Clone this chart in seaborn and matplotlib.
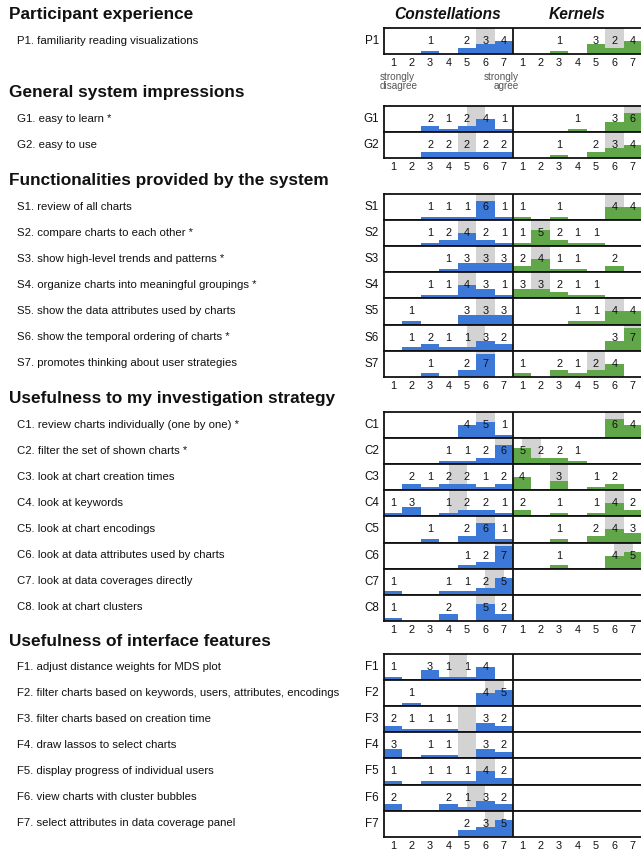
import numpy as np
import pandas as pd
import matplotlib
matplotlib.use('Agg')
import matplotlib.pyplot as plt
from matplotlib import font_manager
import seaborn as sns

# Likert scale points
scale = [1, 2, 3, 4, 5, 6, 7]
tools = ['Constellations', 'Kernels']

# Participant experience
p_codes = ['P1']
p_items = ['familiarity reading visualizations']
p_const = [[0, 0, 1, 0, 2, 3, 4]]
p_kern = [[0, 0, 1, 0, 3, 2, 4]]

# General system impressions
g_codes = ['G1', 'G2']
g_items = ['easy to learn *', 'easy to use']
g_const = [[0, 0, 2, 1, 2, 4, 1],
           [0, 0, 2, 2, 2, 2, 2]]
g_kern = [[0, 0, 0, 1, 0, 3, 6],
          [0, 0, 1, 0, 2, 3, 4]]

# Functionalities provided by the system
s_codes = ['S1', 'S2', 'S3', 'S4', 'S5', 'S6', 'S7']
s_items = ['review of all charts',
           'compare charts to each other *',
           'show high-level trends and patterns *',
           'organize charts into meaningful groupings *',
           'show the data attributes used by charts',
           'show the temporal ordering of charts *',
           'promotes thinking about user strategies']
s_const = [[0, 0, 1, 1, 1, 6, 1],
           [0, 0, 1, 2, 4, 2, 1],
           [0, 0, 0, 1, 3, 3, 3],
           [0, 0, 1, 1, 4, 3, 1],
           [0, 1, 0, 0, 3, 3, 3],
           [0, 1, 2, 1, 1, 3, 2],
           [0, 0, 1, 0, 2, 7, 0]]
s_kern = [[1, 0, 1, 0, 0, 4, 4],
          [1, 5, 2, 1, 1, 0, 0],
          [2, 4, 1, 1, 0, 2, 0],
          [3, 3, 2, 1, 1, 0, 0],
          [0, 0, 0, 1, 1, 4, 4],
          [0, 0, 0, 0, 0, 3, 7],
          [1, 0, 2, 1, 2, 4, 0]]

# Usefulness to my investigation strategy
c_codes = ['C1', 'C2', 'C3', 'C4', 'C5', 'C6', 'C7', 'C8']
c_items = ['review charts individually (one by one) *',
           'filter the set of shown charts *',
           'look at chart creation times',
           'look at keywords',
           'look at chart encodings',
           'look at data attributes used by charts',
           'look at data coverages directly',
           'look at chart clusters']
c_const = [[0, 0, 0, 0, 4, 5, 1],
           [0, 0, 0, 1, 1, 2, 6],
           [0, 2, 1, 2, 2, 1, 2],
           [1, 3, 0, 1, 2, 2, 1],
           [0, 0, 1, 0, 2, 6, 1],
           [0, 0, 0, 0, 1, 2, 7],
           [1, 0, 0, 1, 1, 2, 5],
           [1, 0, 0, 2, 0, 5, 2]]
c_kern = [[0, 0, 0, 0, 0, 6, 4],
          [5, 2, 2, 1, 0, 0, 0],
          [4, 0, 3, 0, 1, 2, 0],
          [2, 0, 1, 0, 1, 4, 2],
          [0, 0, 1, 0, 2, 4, 3],
          [0, 0, 1, 0, 0, 4, 5],
          [0, 0, 0, 0, 0, 0, 0],
          [0, 0, 0, 0, 0, 0, 0]]

# Usefulness of interface features (Constellations only)
f_codes = ['F1', 'F2', 'F3', 'F4', 'F5', 'F6', 'F7']
f_items = ['adjust distance weights for MDS plot',
           'filter charts based on keywords, users, attributes, encodings',
           'filter charts based on creation time',
           'draw lassos to select charts',
           'display progress of individual users',
           'view charts with cluster bubbles',
           'select attributes in data coverage panel']
f_const = [[1, 0, 3, 1, 1, 4, 0],
           [0, 1, 0, 0, 0, 4, 5],
           [2, 1, 1, 1, 0, 3, 2],
           [3, 0, 1, 1, 0, 3, 2],
           [1, 0, 1, 1, 1, 4, 2],
           [2, 0, 0, 2, 1, 3, 2],
           [0, 0, 0, 0, 2, 3, 5]]
f_kern = [[0] * 7 for _ in f_codes]

headers = ['Participant experience',
           'General system impressions',
           'Functionalities provided by the system',
           'Usefulness to my investigation strategy',
           'Usefulness of interface features']

palette = {'Constellations': '#3b78d8', 'Kernels': '#62a64a'}
median_color = '#d3d3d3'

W, H = 641, 856
sns.set_theme(style='white')
plt.rcParams['font.family'] = ['Liberation Sans', 'DejaVu Sans']

names = {f.name for f in font_manager.fontManager.ttflist}
if 'Liberation Sans Narrow' in names:
    item_font, item_size = 'Liberation Sans Narrow', 9.4
else:
    item_font, item_size = 'Liberation Sans', 8.2

fig = plt.figure(figsize=(W / 100, H / 100), dpi=100)


def fx(px):
    return px / W


def fy(py):
    return 1 - py / H


X0, X1 = 384, 642   # left edge of Constellations, right edge of Kernels
RH = 26.1           # row height in pixels


def draw_row(ax, const, kern):
    df = pd.DataFrame({'pos': scale + [s + 7 for s in scale],
                       'count': const + kern,
                       'tool': ['Constellations'] * 7 + ['Kernels'] * 7})
    sns.histplot(data=df, x='pos', weights='count', hue='tool', hue_order=tools,
                 palette=palette, discrete=True, shrink=1, alpha=1,
                 linewidth=0, legend=False, ax=ax, zorder=2)
    # median band
    for counts, off in [(const, 0), (kern, 7)]:
        if sum(counts) > 0:
            m = np.median(np.repeat(scale, counts))
            ax.axvspan(m + off - 0.5, m + off + 0.5, color=median_color,
                       lw=0, zorder=0)
    # counts
    for p, c in zip(df['pos'], df['count']):
        if c > 0:
            ax.text(p, 4.0, str(c), ha='center', va='center', fontsize=7.8,
                    color='#111111', zorder=5)
    ax.axvline(7.5, color='#111111', lw=1.3, zorder=6)
    ax.set_xlim(0.5, 14.5)
    ax.set_ylim(0, 8)
    ax.set_yticks([])
    ax.set_xlabel('')
    ax.set_ylabel('')
    for sp in ax.spines.values():
        sp.set_color('#111111')
        sp.set_linewidth(1.3)


def draw_section(top, header, header_base, codes, items, const, kern):
    fig.text(fx(9), fy(header_base), header, fontsize=12.4, fontweight='bold',
             va='baseline', ha='left', color='#111111')
    n = len(codes)
    for i in range(n):
        bottom = top + (i + 1) * RH
        ax = fig.add_axes([fx(X0), fy(bottom), (X1 - X0) / W, RH / H])
        draw_row(ax, const[i], kern[i])
        ax.set_facecolor('white')
        if i == n - 1:
            ax.set_xticks(range(1, 15))
            ax.set_xticklabels(scale + scale, fontsize=7.8, color='#111111')
            ax.tick_params(axis='x', length=0, pad=3)
        else:
            ax.set_xticks([])
        mid = top + (i + 0.5) * RH
        fig.text(fx(379), fy(mid), codes[i], ha='right', va='center',
                 fontsize=8.4, color='#111111')
        fig.text(fx(17), fy(mid + 2.5), f'{codes[i]}. {items[i]}', ha='left',
                 va='baseline', fontsize=item_size, family=item_font,
                 color='#111111')


draw_section(28, headers[0], 19, p_codes, p_items, p_const, p_kern)
draw_section(106, headers[1], 97, g_codes, g_items, g_const, g_kern)
draw_section(194, headers[2], 185, s_codes, s_items, s_const, s_kern)
draw_section(412, headers[3], 403, c_codes, c_items, c_const, c_kern)
draw_section(654, headers[4], 646, f_codes, f_items, f_const, f_kern)

# panel titles
fig.text(fx(448), fy(19), 'Constellations', ha='center', va='baseline',
         fontsize=11.2, fontweight='bold', style='italic', color='#111111')
fig.text(fx(577), fy(19), 'Kernels', ha='center', va='baseline',
         fontsize=11.2, fontweight='bold', style='italic', color='#111111')

# scale anchors
fig.text(fx(380), fy(72), 'strongly\ndisagree', ha='left', va='top',
         fontsize=7.2, color='#555555', linespacing=0.92)
fig.text(fx(519), fy(72), 'strongly\nagree', ha='right', va='top',
         multialignment='right', fontsize=7.2, color='#555555', linespacing=0.92)

fig.savefig('out.png', dpi=100)
